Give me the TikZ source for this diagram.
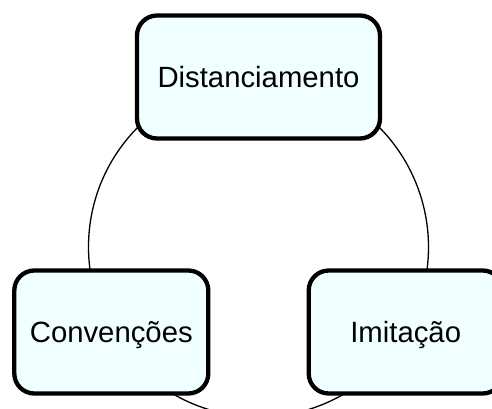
\documentclass[tikz,border=0pt]{standalone}
\usepackage{fontspec}
\setmainfont{Liberation Sans}
\usetikzlibrary{backgrounds}

\begin{document}
\begin{tikzpicture}[x=1pt, y=1pt,
		cyclebox/.style={draw, line width=4.3pt, rounded corners=20pt,
			fill={rgb,255:red,240;green,255;blue,255},
			minimum height=123pt, text height=21pt, text depth=0pt,
			font=\fontsize{29.3}{35}\selectfont
		},
		cyclearc/.style={draw, line width=1.3pt}]
		
		\useasboundingbox (0,0) rectangle (492,409);
		\clip (0,0) rectangle (492,409);
		
		\coordinate (cyc) at (258.5,162);
		
		\node[cyclebox, minimum width=243pt] (dist) at (258.5,332) {Distanciamento};
		\node[cyclebox, minimum width=194pt] (conv) at (111.3,77) {Convenções};
		\node[cyclebox, minimum width=194pt] (imit) at (405.7,77) {Imitação};
		
		%cycle
		\begin{scope}[on background layer]
			\draw[cyclearc] (dist.center) arc[start angle=90, end angle=210, radius=170];
			\draw[cyclearc] (conv.center) arc[start angle=210, end angle=330, radius=170];
			\draw[cyclearc] (imit.center) arc[start angle=330, end angle=450, radius=170];
		\end{scope}
	\end{tikzpicture}
\end{document}
